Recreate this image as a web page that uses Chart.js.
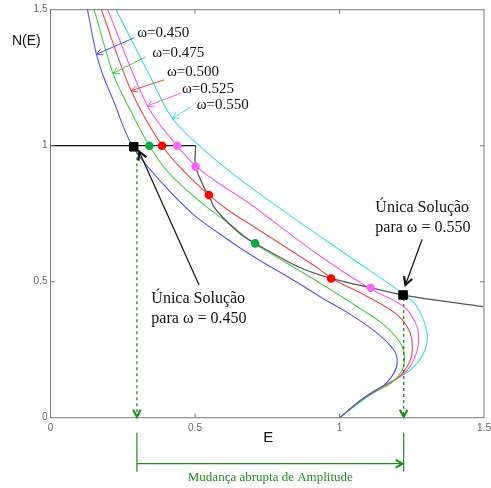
<!DOCTYPE html>
<html>
<head>
<meta charset="utf-8">
<script src="https://cdn.jsdelivr.net/npm/chart.js@4"></script>
<style>
  html, body { margin: 0; padding: 0; background: #fff; }
  #wrap { width: 491px; height: 488px; position: relative; }
</style>
</head>
<body>
<div id="wrap"><canvas id="chart"></canvas></div>
<script>
// N(E) curves, one pair of arrays per omega
const omegas = ['0.450', '0.475', '0.500', '0.525', '0.550'];

const e450 = [0.128, 0.159, 0.185, 0.217, 0.283, 0.387, 0.490, 0.582, 0.685, 0.857, 0.940, 1.040, 1.131, 1.188, 1.200, 1.188, 1.154, 1.074, 1.000];
const n450 = [1.500, 1.336, 1.250, 1.168, 1.000, 0.862, 0.751, 0.678, 0.604, 0.495, 0.440, 0.378, 0.310, 0.249, 0.206, 0.163, 0.120, 0.065, 0.000];

const e475 = [0.151, 0.216, 0.262, 0.342, 0.410, 0.525, 0.616, 0.705, 0.925, 1.062, 1.154, 1.211, 1.225, 1.217, 1.177, 1.108, 1.000];
const n475 = [1.500, 1.266, 1.160, 1.000, 0.899, 0.788, 0.715, 0.641, 0.500, 0.408, 0.341, 0.274, 0.224, 0.175, 0.126, 0.085, 0.000];

const e500 = [0.176, 0.279, 0.386, 0.468, 0.548, 0.616, 0.685, 0.925, 0.973, 1.097, 1.200, 1.245, 1.251, 1.234, 1.200, 1.108, 1.000];
const n500 = [1.500, 1.202, 1.000, 0.899, 0.819, 0.762, 0.715, 0.550, 0.512, 0.445, 0.378, 0.310, 0.237, 0.188, 0.145, 0.090, 0.000];

const e525 = [0.198, 0.336, 0.438, 0.505, 0.582, 0.685, 0.925, 1.103, 1.223, 1.268, 1.272, 1.251, 1.211, 1.108, 1.000];
const n525 = [1.500, 1.146, 1.000, 0.923, 0.862, 0.790, 0.600, 0.476, 0.408, 0.335, 0.267, 0.200, 0.151, 0.090, 0.000];

const e550 = [0.227, 0.347, 0.422, 0.525, 0.639, 0.800, 1.051, 1.220, 1.268, 1.303, 1.291, 1.245, 1.188, 1.108, 1.000];
const n550 = [1.500, 1.250, 1.100, 0.990, 0.890, 0.765, 0.580, 0.455, 0.408, 0.310, 0.237, 0.175, 0.139, 0.090, 0.000];

// the black/gray characteristic line
const lineE = [0.000, 0.502];
const lineN = [1.000, 1.000];
const curveE = [0.502, 0.502, 0.536, 0.548, 0.565, 0.605, 0.662, 0.708, 0.857, 0.971, 1.108, 1.220, 1.497];
const curveN = [1.000, 0.923, 0.837, 0.819, 0.776, 0.727, 0.672, 0.641, 0.555, 0.512, 0.478, 0.451, 0.408];

// intersection markers
const greenDotsE = [0.342, 0.708];
const greenDotsN = [1.000, 0.641];
const redDotsE = [0.386, 0.548, 0.971];
const redDotsN = [1.000, 0.819, 0.512];
const pinkDotsE = [0.438, 0.502, 1.108];
const pinkDotsN = [1.000, 0.923, 0.478];
const solE = [0.288, 1.220];
const solN = [0.996, 0.451];

const xTicks = [0, 0.5, 1, 1.5];
const yTicks = [0, 0.5, 1, 1.5];

// annotation anchors (data units)
const omegaText = [[0.300, 1.413], [0.352, 1.340], [0.403, 1.270], [0.455, 1.208], [0.506, 1.150]];
const omegaArrows = [
  [0.290, 1.397, 0.159, 1.336],
  [0.330, 1.327, 0.216, 1.266],
  [0.393, 1.242, 0.279, 1.202],
  [0.450, 1.193, 0.336, 1.146],
  [0.485, 1.143, 0.422, 1.100]
];
const jumpE = [0.299, 1.222];

const colors = ['#5555ee', '#44d044', '#f04545', '#f25cf2', '#3ddcdc'];
const pts = (xs, ys) => xs.map((x, i) => ({ x: x, y: ys[i] }));

const curveSets = [[e450, n450], [e475, n475], [e500, n500], [e525, n525], [e550, n550]];

const datasets = [
  { data: pts(solE, solN), pointStyle: 'rect', pointRadius: 6, backgroundColor: '#000', borderColor: '#000', showLine: false },
  { data: pts(greenDotsE, greenDotsN), pointRadius: 4.3, backgroundColor: '#0aa64a', borderWidth: 0, showLine: false },
  { data: pts(redDotsE, redDotsN), pointRadius: 4.3, backgroundColor: '#ff0000', borderWidth: 0, showLine: false },
  { data: pts(pinkDotsE, pinkDotsN), pointRadius: 4.3, backgroundColor: '#ff66ff', borderWidth: 0, showLine: false },
  { data: [{ x: jumpE[0], y: 0.98 }, { x: jumpE[0], y: 0 }], showLine: true, pointRadius: 0, borderColor: '#1d8f1d', borderWidth: 1.3, borderDash: [3, 3] },
  { data: [{ x: jumpE[1], y: 0.44 }, { x: jumpE[1], y: 0 }], showLine: true, pointRadius: 0, borderColor: '#1d8f1d', borderWidth: 1.3, borderDash: [3, 3] },
  { data: pts(lineE, lineN), showLine: true, pointRadius: 0, borderColor: '#111', borderWidth: 1.3 },
  { data: pts(curveE, curveN), showLine: true, pointRadius: 0, borderColor: '#555', borderWidth: 1.3, tension: 0.3 }
];
curveSets.forEach(([xs, ys], i) => {
  datasets.push({ label: 'ω=' + omegas[i], data: pts(xs, ys), showLine: true, pointRadius: 0, borderColor: colors[i], borderWidth: 1.1, tension: 0.35 });
});

function arrowHead(ctx, x0, y0, x1, y1, size) {
  const a = Math.atan2(y1 - y0, x1 - x0);
  ctx.beginPath();
  ctx.moveTo(x1 - size * Math.cos(a - 0.5), y1 - size * Math.sin(a - 0.5));
  ctx.lineTo(x1, y1);
  ctx.lineTo(x1 - size * Math.cos(a + 0.5), y1 - size * Math.sin(a + 0.5));
  ctx.stroke();
}

const decorations = {
  id: 'decorations',
  afterDatasetsDraw(chart) {
    const { ctx, chartArea: ca, scales: { x, y } } = chart;
    ctx.save();

    // frame and inward ticks
    ctx.strokeStyle = '#777';
    ctx.lineWidth = 1;
    ctx.strokeRect(ca.left, ca.top, ca.right - ca.left, ca.bottom - ca.top);
    ctx.beginPath();
    xTicks.slice(1, -1).forEach(v => {
      const px = x.getPixelForValue(v);
      ctx.moveTo(px, ca.bottom); ctx.lineTo(px, ca.bottom - 4);
      ctx.moveTo(px, ca.top); ctx.lineTo(px, ca.top + 4);
    });
    yTicks.slice(1, -1).forEach(v => {
      const py = y.getPixelForValue(v);
      ctx.moveTo(ca.left, py); ctx.lineTo(ca.left + 4, py);
      ctx.moveTo(ca.right, py); ctx.lineTo(ca.right - 4, py);
    });
    ctx.stroke();

    // omega labels with arrows
    ctx.font = '15px "Liberation Serif", serif';
    ctx.textBaseline = 'middle';
    ctx.textAlign = 'left';
    omegas.forEach((w, i) => {
      ctx.fillStyle = '#111';
      ctx.fillText('ω=' + w, x.getPixelForValue(omegaText[i][0]), y.getPixelForValue(omegaText[i][1]));
      const [a, b, c, d] = omegaArrows[i];
      const x0 = x.getPixelForValue(a), y0 = y.getPixelForValue(b);
      const x1 = x.getPixelForValue(c), y1 = y.getPixelForValue(d);
      ctx.strokeStyle = colors[i];
      ctx.lineWidth = 1;
      ctx.beginPath(); ctx.moveTo(x0, y0); ctx.lineTo(x1, y1); ctx.stroke();
      arrowHead(ctx, x0, y0, x1, y1, 7);
    });

    // solution callouts
    ctx.strokeStyle = '#111';
    ctx.fillStyle = '#111';
    ctx.font = '16px "Liberation Serif", serif';
    const call = (tx, ty, ax0, ay0, ax1, ay1, label) => {
      const px = x.getPixelForValue(tx), py = y.getPixelForValue(ty);
      ctx.fillText('Única Solução', px, py);
      ctx.fillText(label, px, py + 20);
      const x0 = x.getPixelForValue(ax0), y0 = y.getPixelForValue(ay0);
      const x1 = x.getPixelForValue(ax1), y1 = y.getPixelForValue(ay1);
      ctx.lineWidth = 1.2;
      ctx.beginPath(); ctx.moveTo(x0, y0); ctx.lineTo(x1, y1); ctx.stroke();
      ctx.lineWidth = 2.2;
      arrowHead(ctx, x0, y0, x1, y1, 9);
    };
    call(0.349, 0.438, 0.514, 0.488, 0.307, 0.978, 'para ω = 0.450');
    call(1.124, 0.772, 1.286, 0.656, 1.228, 0.488, 'para ω = 0.550');

    // green arrowheads at the axis
    ctx.strokeStyle = '#1d8f1d';
    ctx.lineWidth = 2.2;
    jumpE.forEach(v => {
      const px = x.getPixelForValue(v);
      arrowHead(ctx, px, ca.bottom - 20, px, ca.bottom - 1, 8);
    });

    // below-axis annotation
    const xa = x.getPixelForValue(jumpE[0]), xb = x.getPixelForValue(jumpE[1]);
    ctx.lineWidth = 1.2;
    ctx.beginPath();
    ctx.moveTo(xa, ca.bottom + 15); ctx.lineTo(xa, ca.bottom + 54);
    ctx.moveTo(xb, ca.bottom + 15); ctx.lineTo(xb, ca.bottom + 54);
    ctx.moveTo(xa, ca.bottom + 46); ctx.lineTo(xb - 1, ca.bottom + 46);
    ctx.stroke();
    ctx.lineWidth = 2;
    arrowHead(ctx, xa, ca.bottom + 46, xb - 1, ca.bottom + 46, 8);
    ctx.fillStyle = '#1d8f1d';
    ctx.font = '13px "Liberation Serif", serif';
    ctx.textAlign = 'center';
    ctx.fillText('Mudança abrupta de Amplitude', (xa + xb) / 2, ca.bottom + 60);

    // axis titles
    ctx.fillStyle = '#111';
    ctx.font = '15px "Liberation Sans", Arial, sans-serif';
    ctx.fillText('E', (ca.left + ca.right) / 2 + 1, ca.bottom + 20);
    ctx.font = '14px "Liberation Sans", Arial, sans-serif';
    ctx.textAlign = 'left';
    ctx.fillText('N(E)', 12, 41);

    ctx.restore();
  }
};

new Chart(document.getElementById('chart'), {
  type: 'scatter',
  data: { datasets: datasets },
  options: {
    responsive: true,
    maintainAspectRatio: false,
    animation: false,
    layout: { padding: { top: 9.7, right: 3.5, left: 0, bottom: 0 } },
    plugins: { legend: { display: false }, tooltip: { enabled: false } },
    scales: {
      x: {
        type: 'linear', min: 0, max: 1.5,
        grid: { display: false, drawTicks: false }, border: { display: false },
        afterBuildTicks: s => { s.ticks = xTicks.map(v => ({ value: v })); },
        ticks: { color: '#666', font: { size: 10, family: '"Liberation Sans", Arial, sans-serif' }, padding: 5, maxRotation: 0, callback: v => String(v) },
        afterFit: s => { s.height = 70.3; s.paddingLeft = 0; s.paddingRight = 0; }
      },
      y: {
        type: 'linear', min: 0, max: 1.5,
        grid: { display: false, drawTicks: false }, border: { display: false },
        afterBuildTicks: s => { s.ticks = yTicks.map(v => ({ value: v })); },
        ticks: { color: '#666', font: { size: 10, family: '"Liberation Sans", Arial, sans-serif' }, padding: 3, callback: v => String(v) },
        afterFit: s => { s.width = 50.5; s.paddingTop = 0; s.paddingBottom = 0; }
      }
    }
  },
  plugins: [decorations]
});
</script>
</body>
</html>
